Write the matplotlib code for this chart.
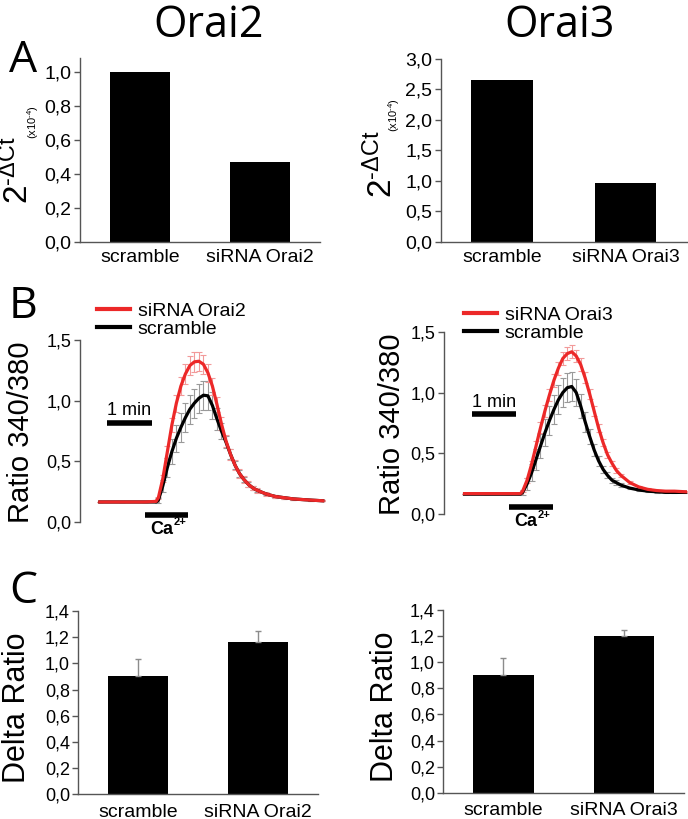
import numpy as np
import matplotlib.pyplot as plt
from matplotlib.lines import Line2D

plt.rcParams['font.family'] = ['Liberation Sans', 'DejaVu Sans']
plt.rcParams['mathtext.fontset'] = 'custom'
plt.rcParams['mathtext.rm'] = 'Liberation Sans'
plt.rcParams['mathtext.it'] = 'Liberation Sans'
plt.rcParams['mathtext.bf'] = 'Liberation Sans:bold'

# ---- data ----
genes = ['Orai2', 'Orai3']
categories = {'Orai2': ['scramble', 'siRNA Orai2'], 'Orai3': ['scramble', 'siRNA Orai3']}

# A: 2^-dCt (x10^-4)
expr = {'Orai2': [1.0, 0.47], 'Orai3': [2.66, 0.97]}
expr_ticks = {'Orai2': [0.0, 0.2, 0.4, 0.6, 0.8, 1.0], 'Orai3': [0.0, 0.5, 1.0, 1.5, 2.0, 2.5, 3.0]}

# B: Ca2+ traces (time in min)
t = [0, 0.5, 1.0, 1.25, 1.3, 1.4, 1.5, 1.6, 1.7, 1.8, 1.9, 2.0, 2.1, 2.2, 2.3, 2.4, 2.5,
     2.6, 2.7, 2.8, 2.9, 3.0, 3.1, 3.2, 3.3, 3.4, 3.5, 3.7, 3.9, 4.1, 4.3, 4.5, 4.7, 4.95]
sirna_orai2 = [0.165, 0.165, 0.165, 0.17, 0.20, 0.36, 0.58, 0.80, 0.98, 1.12, 1.22, 1.29, 1.32,
               1.325, 1.30, 1.23, 1.12, 0.97, 0.81, 0.67, 0.56, 0.47, 0.40, 0.35, 0.31, 0.28,
               0.26, 0.23, 0.21, 0.20, 0.19, 0.185, 0.18, 0.175]
sirna_orai2_err = [0, 0, 0, 0, 0.01, 0.03, 0.05, 0.06, 0.07, 0.075, 0.08, 0.08, 0.08, 0.08, 0.08,
                   0.075, 0.07, 0.06, 0.055, 0.05, 0.045, 0.04, 0.035, 0.03, 0.025, 0.02, 0.02,
                   0.015, 0.01, 0.01, 0.008, 0.006, 0.005, 0.005]
scr_orai2 = [0.165, 0.165, 0.165, 0.165, 0.18, 0.30, 0.45, 0.58, 0.69, 0.78, 0.86, 0.93, 0.98,
             1.02, 1.045, 1.04, 0.96, 0.85, 0.75, 0.66, 0.56, 0.47, 0.40, 0.35, 0.31, 0.28,
             0.26, 0.23, 0.21, 0.20, 0.19, 0.185, 0.18, 0.175]
scr_orai2_err = [0, 0, 0, 0, 0.02, 0.05, 0.08, 0.10, 0.11, 0.12, 0.12, 0.12, 0.12, 0.12, 0.12,
                 0.12, 0.11, 0.09, 0.07, 0.05, 0.04, 0.03, 0.025, 0.02, 0.02, 0.015, 0.015,
                 0.01, 0.01, 0.008, 0.006, 0.005, 0.005, 0.005]
sirna_orai3 = [0.17, 0.17, 0.17, 0.17, 0.19, 0.28, 0.41, 0.56, 0.71, 0.85, 0.98, 1.10, 1.20,
               1.28, 1.32, 1.335, 1.30, 1.23, 1.12, 0.99, 0.85, 0.71, 0.59, 0.49, 0.42, 0.36,
               0.32, 0.26, 0.225, 0.205, 0.195, 0.19, 0.19, 0.185]
sirna_orai3_err = [0, 0, 0, 0, 0.01, 0.02, 0.03, 0.04, 0.045, 0.05, 0.05, 0.055, 0.055, 0.055,
                   0.055, 0.055, 0.05, 0.05, 0.045, 0.04, 0.04, 0.035, 0.03, 0.025, 0.02, 0.02,
                   0.015, 0.01, 0.01, 0.008, 0.006, 0.005, 0.005, 0.005]
scr_orai3 = [0.165, 0.165, 0.165, 0.165, 0.18, 0.25, 0.34, 0.45, 0.56, 0.67, 0.77, 0.86, 0.94,
             1.00, 1.04, 1.05, 1.00, 0.89, 0.76, 0.64, 0.53, 0.44, 0.37, 0.32, 0.28, 0.26,
             0.24, 0.215, 0.20, 0.19, 0.185, 0.18, 0.18, 0.18]
scr_orai3_err = [0, 0, 0, 0, 0.02, 0.05, 0.07, 0.09, 0.10, 0.11, 0.12, 0.12, 0.12, 0.12, 0.12,
                 0.12, 0.11, 0.10, 0.08, 0.06, 0.05, 0.04, 0.03, 0.025, 0.02, 0.02, 0.015,
                 0.01, 0.01, 0.008, 0.006, 0.005, 0.005, 0.005]
traces = {'Orai2': (sirna_orai2, sirna_orai2_err, scr_orai2, scr_orai2_err),
          'Orai3': (sirna_orai3, sirna_orai3_err, scr_orai3, scr_orai3_err)}
min_bar = [0.16, 1.16]         # 1 min scale bar
ca_bar = {'Orai2': [1.0, 1.96], 'Orai3': [0.99, 1.97]}
ratio_ticks = [0.0, 0.5, 1.0, 1.5]

# C: delta ratio
delta = {'Orai2': [0.90, 1.165], 'Orai3': [0.905, 1.20]}
delta_err = {'Orai2': [0.13, 0.085], 'Orai3': [0.125, 0.05]}
delta_ticks = [0.0, 0.2, 0.4, 0.6, 0.8, 1.0, 1.2, 1.4]

W, H = 688, 819
fig = plt.figure(figsize=(W / 100, H / 100), dpi=100)


def box(l, t_, r, b):
    return [l / W, 1 - b / H, (r - l) / W, (b - t_) / H]


def fx(x):
    return x / W


def fy(y):
    return 1 - y / H


def comma(v):
    return ('%.1f' % v).replace('.', ',')


def style(ax, yticks, size):
    for s in ['top', 'right']:
        ax.spines[s].set_visible(False)
    for s in ['left', 'bottom']:
        ax.spines[s].set_color('#555555')
        ax.spines[s].set_linewidth(1)
    ax.set_yticks(yticks)
    ax.set_yticklabels([comma(v) for v in yticks], fontsize=size)
    ax.tick_params(axis='y', length=4, width=1, color='#555555', pad=2)


gray = '#8c8c8c'

a_boxes = {'Orai2': box(80, 58.3, 320, 241.7), 'Orai3': box(440.7, 59, 687, 241.7)}
a_ylim = {'Orai2': 1.08, 'Orai3': 3.0}
b_boxes = {'Orai2': box(80, 340, 325, 522), 'Orai3': box(444, 331.7, 687, 514.3)}
b_xlim = {'Orai2': (-0.44, 5.0), 'Orai3': (-0.46, 4.98)}
c_boxes = {'Orai2': box(78.3, 611, 318, 794.3), 'Orai3': box(443.3, 610, 684, 792.7)}

for g in genes:
    x = np.arange(len(categories[g]))
    # A
    ax = fig.add_axes(a_boxes[g])
    ax.bar(x, expr[g], width=0.5, color='black')
    ax.set_xlim(-0.5, 1.5)
    ax.set_ylim(0, a_ylim[g])
    style(ax, expr_ticks[g], 14)
    ax.set_xticks(x)
    ax.set_xticklabels(categories[g], fontsize=14)
    ax.tick_params(axis='x', length=0, pad=5)

    # B
    ax = fig.add_axes(b_boxes[g])
    si, si_err, sc, sc_err = traces[g]
    ax.errorbar(t, sc, yerr=sc_err, fmt='none', ecolor='#9a9a9a', elinewidth=0.8,
                capsize=2, capthick=0.8)
    ax.errorbar(t, si, yerr=si_err, fmt='none', ecolor='#f29a9a', elinewidth=0.8,
                capsize=2, capthick=0.8)
    ax.plot(t, sc, color='black', lw=2.3)
    ax.plot(t, si, color='#ec2828', lw=2.3)
    ax.set_xlim(*b_xlim[g])
    ax.set_ylim(0, 1.5)
    style(ax, ratio_ticks, 13)
    ax.spines['bottom'].set_visible(False)
    ax.set_xticks([])
    ax.plot(min_bar, [0.82, 0.82], color='black', lw=4, solid_capstyle='butt')
    ax.text(np.mean(min_bar), 0.85, '1 min', ha='center', va='bottom', fontsize=13)
    ax.plot(ca_bar[g], [0.06, 0.06], color='black', lw=4, solid_capstyle='butt', clip_on=False)
    cx = np.mean(ca_bar[g])
    ax.text(cx - 0.1, 0.01, 'Ca', ha='center', va='top', fontsize=13,
            fontweight='bold', clip_on=False)
    ax.annotate('2+', xy=(cx - 0.1, 0.01), xytext=(8.3, 2.5), textcoords='offset points',
                ha='left', va='top', fontsize=8, fontweight='bold', annotation_clip=False)
    handles = [Line2D([], [], color='#ec2828', lw=3), Line2D([], [], color='black', lw=3)]
    lx = 97 if g == 'Orai2' else 464
    ly = 302 if g == 'Orai2' else 306
    ax.legend(handles, ['siRNA ' + g, 'scramble'], loc='upper left', frameon=False,
              fontsize=14, handlelength=1.7, handletextpad=0.4, labelspacing=0.05,
              borderpad=0, borderaxespad=0,
              bbox_to_anchor=(fx(lx), fy(ly)), bbox_transform=fig.transFigure)

    # C
    ax = fig.add_axes(c_boxes[g])
    ax.bar(x, delta[g], width=0.5, color='black')
    ax.errorbar(x, delta[g], yerr=[[0, 0], delta_err[g]], fmt='none', ecolor=gray,
                elinewidth=1, capsize=2.5, capthick=1)
    ax.set_xlim(-0.5, 1.5)
    ax.set_ylim(0, 1.4)
    style(ax, delta_ticks, 13)
    ax.set_xticks(x)
    ax.set_xticklabels(categories[g], fontsize=14)
    ax.tick_params(axis='x', length=0, pad=7)

# titles, panel letters, y labels
fig.text(fx(209), fy(26), 'Orai2', fontsize=31, family='Open Sans', ha='center', va='center')
fig.text(fx(560), fy(26), 'Orai3', fontsize=31, family='Open Sans', ha='center', va='center')
for letter, y in [('A', 61), ('B', 307), ('C', 592)]:
    fig.text(fx(23), fy(y), letter, fontsize=32, family='Open Sans', ha='center', va='center')

for xc, yc, xs, ys in [(18, 170, 33, 122), (382, 164, 394, 115)]:
    fig.text(fx(xc), fy(yc), r'$2^{\text{-}\Delta Ct}$', fontsize=24, rotation=90,
             ha='center', va='center')
    fig.text(fx(xs), fy(ys), r'$(x10^{\text{-}4})$', fontsize=8, rotation=90,
             ha='center', va='center')

fig.text(fx(21), fy(432), 'Ratio 340/380', fontsize=21, rotation=90, ha='center', va='center')
fig.text(fx(392), fy(424), 'Ratio 340/380', fontsize=21, rotation=90, ha='center', va='center')
fig.text(fx(17), fy(708), 'Delta Ratio', fontsize=22, rotation=90, ha='center', va='center')
fig.text(fx(385), fy(707), 'Delta Ratio', fontsize=22, rotation=90, ha='center', va='center')

plt.savefig('out.png', dpi=100)
